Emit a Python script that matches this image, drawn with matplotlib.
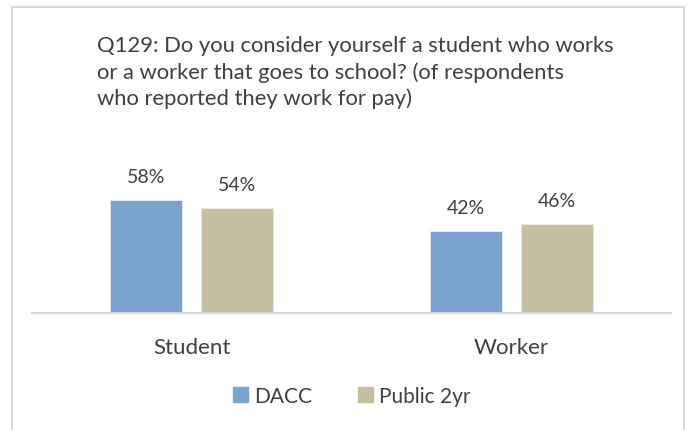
import matplotlib.pyplot as plt
from matplotlib.patches import Rectangle
import numpy as np

categories = ["Student", "Worker"]
series_names = ["DACC", "Public 2yr"]
dacc = [58, 42]
public_2yr = [54, 46]
colors = ["#7BA1CE", "#C4BFA0"]
title = ("Q129: Do you consider yourself a student who works\n"
         "or a worker that goes to school? (of respondents\n"
         "who reported they work for pay)")

W, H = 689, 431
fig = plt.figure(figsize=(W / 100, H / 100), dpi=100)
plt.rcParams["font.family"] = ["Lato", "DejaVu Sans"]
text_color = "#404040"

# outer chart frame
fig.patches.append(Rectangle((12 / W, -0.01), (684 - 12) / W, (H - 8) / H + 0.01,
                             transform=fig.transFigure, fill=False,
                             edgecolor="#D9D9D9", linewidth=1.5))

ymax = 70
ax_left, ax_right, ax_bottom = 32, 671, 313.7
ax_height = ymax * 1.935
ax = fig.add_axes([ax_left / W, (H - ax_bottom) / H,
                   (ax_right - ax_left) / W, ax_height / H])

x = np.arange(len(categories))
width = 0.225
offsets = [-0.1425, 0.1425]
for vals, off, col in zip([dacc, public_2yr], offsets, colors):
    bars = ax.bar(x + off, vals, width, color=col, edgecolor="#E8EEF6",
                  linewidth=0.6)
    for b, v in zip(bars, vals):
        ax.annotate(f"{v}%", (b.get_x() + b.get_width() / 2, v),
                    xytext=(0, 17), textcoords="offset points",
                    ha="center", va="center", fontsize=14, color=text_color)

ax.set_xlim(-0.5, len(categories) - 0.5)
ax.set_ylim(0, ymax)
ax.set_yticks([])
ax.set_xticks(x)
ax.set_xticklabels(categories, fontsize=16, color=text_color)
ax.tick_params(axis="x", length=0, pad=17.5)
for s in ["top", "right", "left"]:
    ax.spines[s].set_visible(False)
ax.spines["bottom"].set_color("#D9D9D9")
ax.spines["bottom"].set_linewidth(1.5)

fig.text(97 / W, 1 - 36 / H, title, ha="left", va="top", fontsize=15.8,
         color=text_color, linespacing=1.37)

handles = [Rectangle((0, 0), 1, 1, color=c) for c in colors]
fig.legend(handles, series_names, loc="center", bbox_to_anchor=(351.5 / W, 1 - 397 / H),
           ncol=2, frameon=False, fontsize=15, handlelength=0.72, handleheight=0.72,
           handletextpad=0.3, columnspacing=2.2, labelcolor=text_color)

fig.savefig("out.png", dpi=100)
